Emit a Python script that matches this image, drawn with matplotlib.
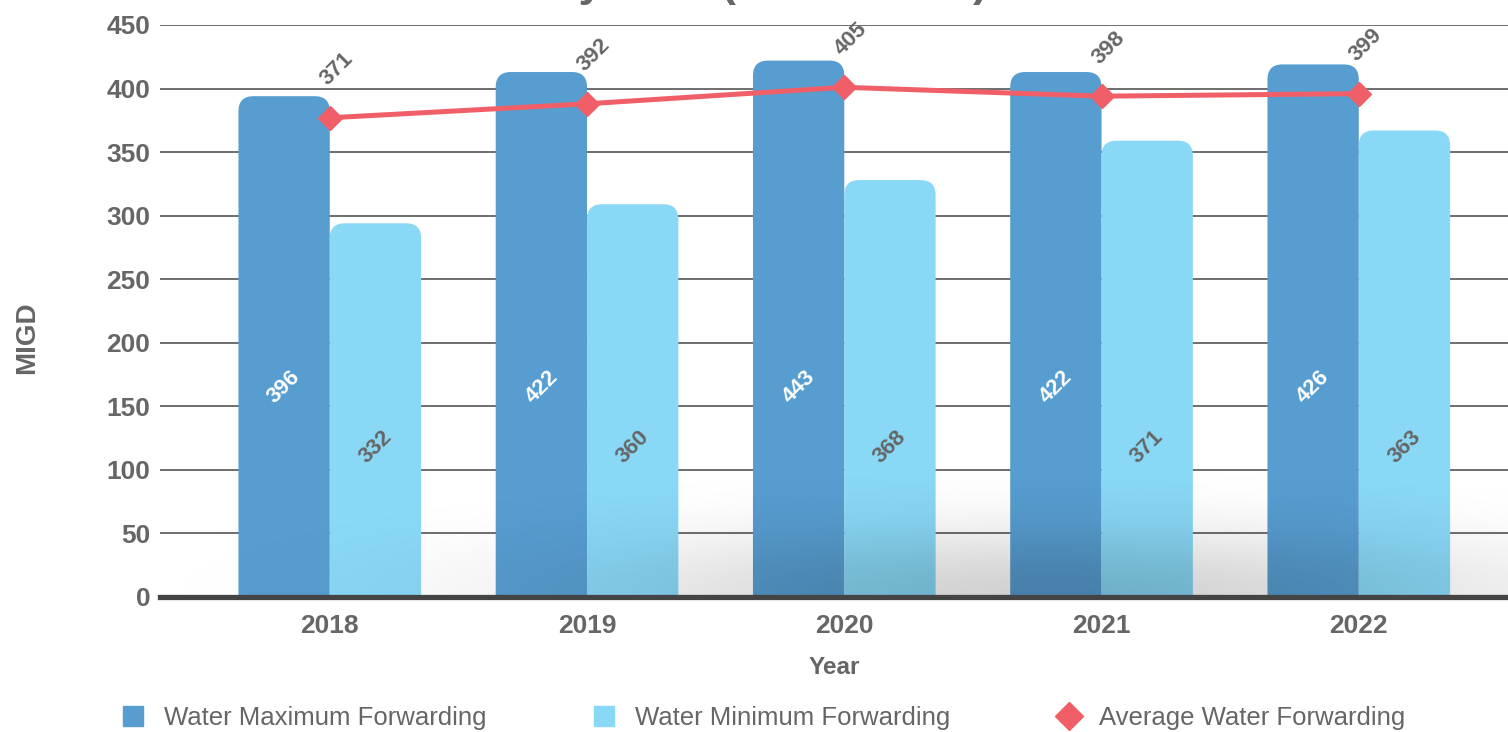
import numpy as np
import matplotlib.pyplot as plt
from matplotlib.patches import FancyBboxPatch
from matplotlib.lines import Line2D

plt.rcParams['font.family'] = ['Liberation Sans', 'DejaVu Sans']

# data (bar heights as drawn on the axis, labels as printed on the chart)
years = ['2018', '2019', '2020', '2021', '2022']
max_height = [394, 413, 422, 413, 419]
min_height = [294, 309, 328, 359, 367]
avg_height = [377, 388, 401, 394, 396]
max_labels = ['396', '422', '443', '422', '426']
min_labels = ['332', '360', '368', '371', '363']
avg_labels = ['371', '392', '405', '398', '399']

c_max = '#579dd0'
c_min = '#89d8f6'
c_avg = '#f05f67'
grey = '#666666'

fig = plt.figure(figsize=(15.08, 7.32), dpi=100)
ax = fig.add_axes([160/1508, 135/732, 1 - 160/1508, 572/732])

x = np.arange(len(years))
w = 0.355

ax.set_xlim(-0.66, 4.58)
ax.set_ylim(0, 450)

# px per data unit, used to keep the rounded corners round
px_x = 1348 / (4.58 + 0.66)
px_y = 572 / 450
r = 15 / px_x

bars1 = ax.bar(x - w/2, max_height, w, color=c_max, zorder=2)
bars2 = ax.bar(x + w/2, min_height, w, color=c_min, zorder=2)
for bars in (bars1, bars2):
    for b in bars:
        b.set_visible(False)
        p = FancyBboxPatch((b.get_x(), -30), b.get_width(), b.get_height() + 30,
                           boxstyle=f'round,pad=0,rounding_size={r}',
                           mutation_aspect=px_x / px_y,
                           fc=b.get_facecolor(), ec='none', zorder=2)
        ax.add_patch(p)

# soft shadow at the bottom
nx, ny = 400, 160
gx, gy = np.meshgrid(np.linspace(0, 1, nx), np.linspace(0, 1, ny))
d2 = ((gx - 0.66) / 0.6) ** 2 + (gy / 0.2) ** 2
alpha = 0.18 * np.exp(-2.2 * d2) * np.clip(1 - d2 / 1.6, 0, 1)
img = np.zeros((ny, nx, 4))
img[..., 3] = alpha
ax.imshow(img, extent=(0, 1, 0, 1), transform=ax.transAxes, origin='lower',
          aspect='auto', zorder=3, interpolation='bilinear')

ax.plot(x, avg_height, color=c_avg, lw=3.6, marker='D', markersize=12, zorder=5)

for i in range(len(years)):
    ax.text(x[i] - w/2, 165, max_labels[i], rotation=45, color='white',
            fontsize=16, fontweight='bold', ha='center', va='center', zorder=6)
    ax.text(x[i] + w/2, 118, min_labels[i], rotation=45, color=grey,
            fontsize=16, fontweight='bold', ha='center', va='center', zorder=6)
    ax.annotate(avg_labels[i], (x[i], avg_height[i]), xytext=(5, 35),
                textcoords='offset points', rotation=45, color=grey,
                fontsize=16, fontweight='bold', ha='center', va='center', zorder=6)

ax.set_yticks(np.arange(0, 451, 50))
ax.grid(axis='y', color='#555555', lw=1.2, zorder=1)
ax.set_axisbelow(True)
for s in ['top', 'right', 'left']:
    ax.spines[s].set_visible(False)
ax.spines['bottom'].set_color('#444444')
ax.spines['bottom'].set_linewidth(3.8)
ax.spines['bottom'].set_zorder(7)
ax.set_xticks(x)
ax.set_xticklabels(years)
ax.tick_params(length=0, labelsize=19, labelcolor=grey)
ax.tick_params(axis='y', pad=7)
ax.tick_params(axis='x', pad=12)
for t in ax.get_xticklabels() + ax.get_yticklabels():
    t.set_fontweight('bold')

ax.set_xlabel('Year', fontsize=17.5, fontweight='bold', color=grey, labelpad=13)
fig.text(27/1508, 1 - 338/732, 'MIGD', rotation=90, fontsize=20, fontweight='bold',
         color=grey, ha='center', va='center')

fig.text(988/1508, 1 + 4/732, 'Water Forwarded by Year (2018 - 2022)',
         fontsize=32, fontweight='bold', color=grey, ha='right', va='baseline')

handles = [
    Line2D([], [], ls='none', marker='s', markersize=15, color=c_max),
    Line2D([], [], ls='none', marker='s', markersize=15, color=c_min),
    Line2D([], [], ls='none', marker='D', markersize=14, color=c_avg),
]
leg = fig.legend(handles, ['Water Maximum Forwarding', 'Water Minimum Forwarding',
                           'Average Water Forwarding'],
                 loc='center left', bbox_to_anchor=(120/1508, 1 - 718/732), ncol=3,
                 frameon=False, fontsize=18.5, handlelength=1.0, handletextpad=0.7,
                 columnspacing=4.1, borderaxespad=0, borderpad=0)
for t in leg.get_texts():
    t.set_color(grey)

fig.savefig('out.png', dpi=100)
